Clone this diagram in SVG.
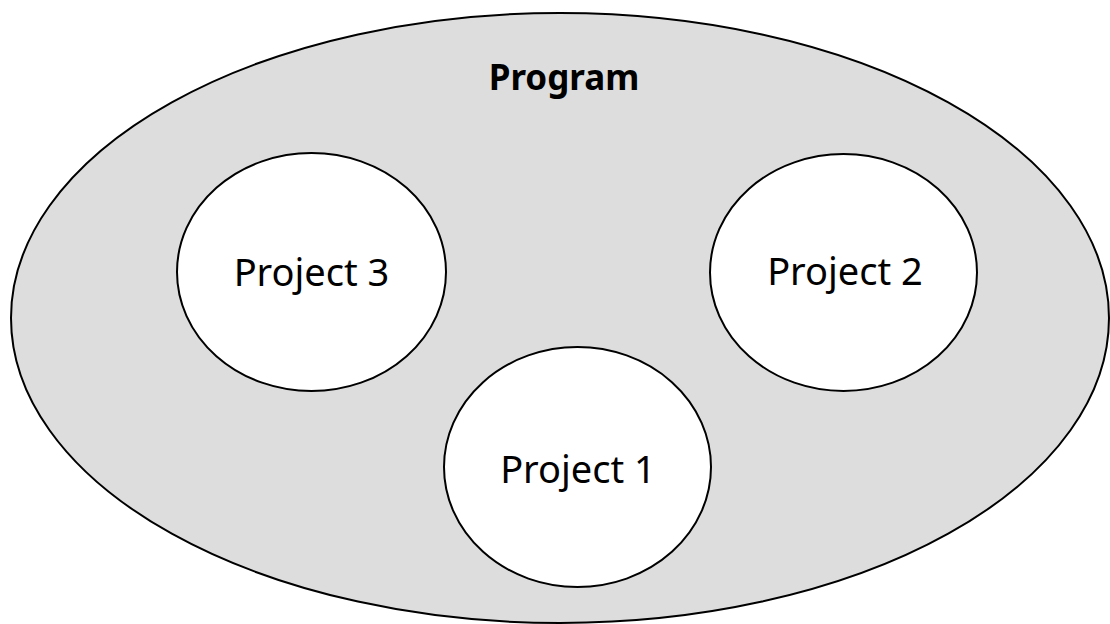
<svg xmlns="http://www.w3.org/2000/svg" width="1110" height="624" viewBox="0 0 1110 624">
<style>
.big{fill:#dddddd;stroke:#000;stroke-width:2}
.proj{fill:#fff;stroke:#000;stroke-width:2}
.lbl{font-family:"Noto Sans","Open Sans","Liberation Sans",sans-serif;font-size:38px;fill:#000;text-anchor:middle}
.title{font-family:"Noto Sans","Open Sans","Liberation Sans",sans-serif;font-size:35px;font-weight:bold;fill:#000;text-anchor:middle}
</style>
<rect width="1110" height="624" fill="#fff"/>
<g id="program">
<ellipse class="big" cx="560" cy="318" rx="549" ry="305"/>
<text class="title" x="564" y="90">Program</text>
</g>
<g id="project3">
<ellipse class="proj" cx="311.5" cy="272" rx="134.5" ry="119"/>
<text class="lbl" x="311.5" y="286">Project 3</text>
</g>
<g id="project2">
<ellipse class="proj" cx="843.5" cy="272.5" rx="133.5" ry="118.5"/>
<text class="lbl" x="845" y="285">Project 2</text>
</g>
<g id="project1">
<ellipse class="proj" cx="577.5" cy="467" rx="133.5" ry="120"/>
<text class="lbl" x="578" y="483">Project 1</text>
</g>
<g id="connectors"></g>
</svg>
